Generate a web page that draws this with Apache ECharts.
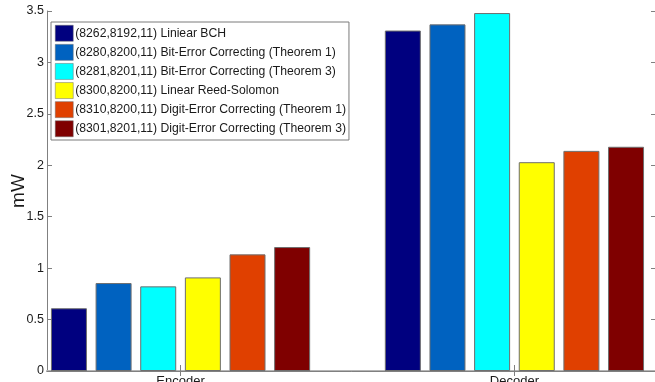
<!DOCTYPE html>
<html>
<head>
<meta charset="utf-8">
<script src="https://cdn.jsdelivr.net/npm/echarts@6/dist/echarts.min.js"></script>
<style>
  html, body { margin: 0; padding: 0; background: #fff; }
  #main { width: 655px; height: 382px; }
</style>
</head>
<body>
<div id="main"></div>
<script>
var categories = ['Encoder', 'Decoder'];
var categoryPos = [1, 2];
var seriesNames = [
    '(8262,8192,11) Liniear BCH',
    '(8280,8200,11) Bit-Error Correcting (Theorem 1)',
    '(8281,8201,11) Bit-Error Correcting (Theorem 3)',
    '(8300,8200,11) Linear Reed-Solomon',
    '(8310,8200,11) Digit-Error Correcting (Theorem 1)',
    '(8301,8201,11) Digit-Error Correcting (Theorem 3)'
];
var linearBch = [0.61, 3.31];
var bitErrT1 = [0.855, 3.37];
var bitErrT3 = [0.823, 3.48];
var reedSolomon = [0.91, 2.03];
var digitErrT1 = [1.134, 2.14];
var digitErrT3 = [1.205, 2.18];
var yTicks = [0, 0.5, 1, 1.5, 2, 2.5, 3, 3.5];

var colors = ['#00007f', '#0062c0', '#00ffff', '#ffff00', '#e04000', '#7f0000'];
var allValues = [linearBch, bitErrT1, bitErrT3, reedSolomon, digitErrT1, digitErrT3];

var chart = echarts.init(document.getElementById('main'));

var series = [];
for (var i = 0; i < seriesNames.length; i++) {
    var pts = [];
    for (var j = 0; j < categories.length; j++) {
        pts.push([categoryPos[j], allValues[i][j]]);
    }
    series.push({
        name: seriesNames[i],
        type: 'bar',
        data: pts,
        barWidth: 36,
        barGap: '24%',
        itemStyle: {
            color: colors[i],
            borderColor: '#6e6e6e',
            borderWidth: 1
        },
        animation: false
    });
}

var font = '"Liberation Sans", Arial, sans-serif';

var option = {
    animation: false,
    color: colors,
    grid: { left: 47, right: -1, top: 11, bottom: 11, outerBoundsMode: 'none', containLabel: false },
    legend: {
        orient: 'vertical',
        left: 51,
        top: 22,
        data: seriesNames,
        itemWidth: 18,
        itemHeight: 16,
        itemGap: 2.6,
        padding: [3, 3, 3, 4],
        borderColor: '#7a7a7a',
        borderWidth: 1,
        backgroundColor: '#fff',
        icon: 'rect',
        textStyle: { fontFamily: font, fontSize: 12.2, color: '#1a1a1a', padding: [0, 0, 0, -3] },
        itemStyle: { borderColor: '#6e6e6e', borderWidth: 0.5 }
    },
    xAxis: [
        {
            type: 'value',
            position: 'bottom',
            min: 0.6,
            max: 2.424,
            splitLine: { show: false },
            axisLine: { show: true, lineStyle: { color: '#b4b4b4', width: 2 } },
            axisTick: { show: true, inside: true, length: 6, customValues: categoryPos, lineStyle: { color: '#808080' } },
            axisLabel: {
                customValues: categoryPos,
                margin: 4,
                fontFamily: font,
                fontSize: 13,
                color: '#1a1a1a',
                formatter: function (v) { return categories[categoryPos.indexOf(v)]; }
            }
        },
        {
            type: 'value',
            position: 'top',
            min: 0.6,
            max: 2.424,
            splitLine: { show: false },
            axisLine: { show: true, lineStyle: { color: '#808080', width: 1 } },
            axisTick: { show: true, inside: true, length: 5, customValues: categoryPos, lineStyle: { color: '#808080' } },
            axisLabel: { show: false }
        }
    ],
    yAxis: [
        {
            type: 'value',
            min: 0,
            max: 3.5,
            interval: 0.5,
            name: 'mW',
            nameLocation: 'middle',
            nameGap: 19,
            nameMoveOverlap: false,
            nameTextStyle: { fontFamily: font, fontSize: 19, color: '#1a1a1a' },
            splitLine: { show: false },
            axisLine: { show: true, lineStyle: { color: '#808080' } },
            axisTick: { show: true, inside: true, length: 5, lineStyle: { color: '#808080' } },
            axisLabel: {
                margin: 3,
                fontFamily: font,
                fontSize: 12.5,
                color: '#1a1a1a',
                formatter: function (v) { return String(v); }
            }
        },
        {
            type: 'value',
            position: 'right',
            min: 0,
            max: 3.5,
            interval: 0.5,
            splitLine: { show: false },
            axisLine: { show: true, lineStyle: { color: '#808080' } },
            axisTick: { show: true, inside: true, length: 5, lineStyle: { color: '#808080' } },
            axisLabel: { show: false }
        }
    ],
    series: series
};

chart.setOption(option);
</script>
</body>
</html>
